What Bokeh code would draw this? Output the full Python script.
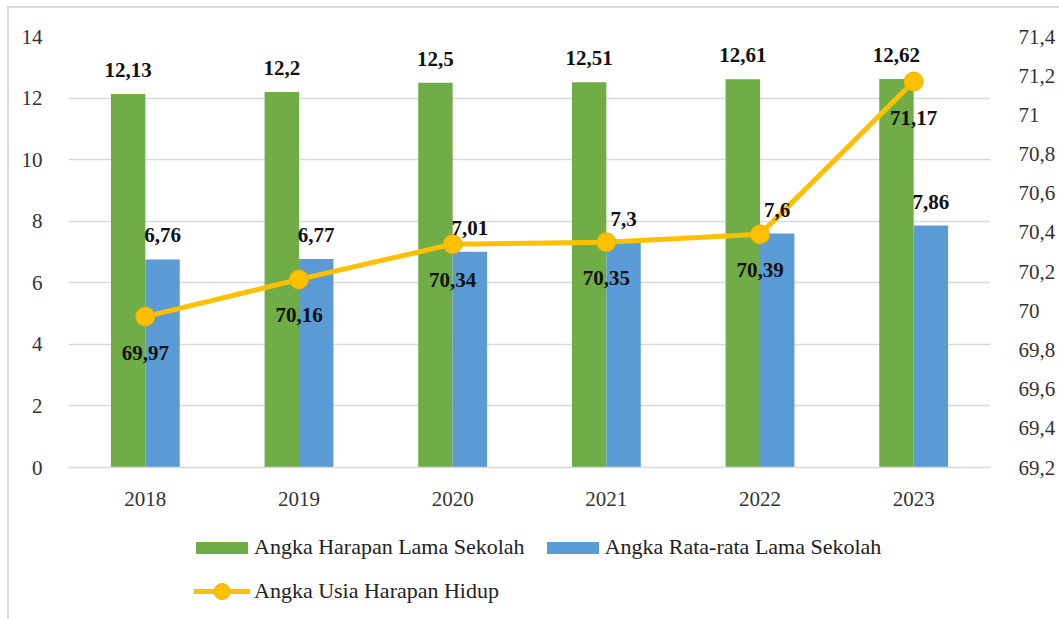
from bokeh.plotting import figure
from bokeh.layouts import column
from bokeh.models import (Range1d, LinearAxis, FixedTicker, CustomJSTickFormatter,
                          Legend, LegendItem, ColumnDataSource, FactorRange)
from bokeh.transform import dodge
from bokeh.core.properties import value
from bokeh.embed import file_html
from bokeh.resources import INLINE

years = ["2018", "2019", "2020", "2021", "2022", "2023"]
ahls = [12.13, 12.2, 12.5, 12.51, 12.61, 12.62]     # Angka Harapan Lama Sekolah
arls = [6.76, 6.77, 7.01, 7.3, 7.6, 7.86]           # Angka Rata-rata Lama Sekolah
auhh = [69.97, 70.16, 70.34, 70.35, 70.39, 71.17]   # Angka Usia Harapan Hidup
left_ticks = [0, 2, 4, 6, 8, 10, 12, 14]
right_ticks = [69.2, 69.4, 69.6, 69.8, 70.0, 70.2, 70.4, 70.6, 70.8, 71.0, 71.2, 71.4]
series_names = ["Angka Harapan Lama Sekolah", "Angka Rata-rata Lama Sekolah",
                "Angka Usia Harapan Hidup"]

def fmt(v):
    return str(v).replace(".", ",")

src = ColumnDataSource(dict(
    year=years, ahls=ahls, arls=arls, auhh=auhh,
    ahls_lbl=[fmt(v) for v in ahls],
    arls_lbl=[fmt(v) for v in arls],
    auhh_lbl=[fmt(v) for v in auhh],
))

FONT = "Liberation Serif"
GREEN = "#70AD47"
BLUE = "#5B9BD5"
YELLOW = "#FFC000"
YELLOW_EDGE = "#EDB200"

# ---------------- main chart ----------------
p = figure(x_range=FactorRange(*years), y_range=Range1d(0, 14),
           width=1050, height=510, output_backend="svg", toolbar_location=None,
           min_border_left=59, min_border_right=69, min_border_top=28, min_border_bottom=51)
p.extra_y_ranges = {"r": Range1d(69.2, 71.4)}
p.outline_line_color = None
p.xgrid.grid_line_color = None
p.ygrid.grid_line_color = "#d9d9d9"
p.ygrid.grid_line_width = 1.5
p.ygrid.ticker = FixedTicker(ticks=left_ticks)

p.yaxis.ticker = FixedTicker(ticks=left_ticks)
for ax in [p.yaxis[0], p.xaxis[0]]:
    ax.major_tick_line_color = None
    ax.minor_tick_line_color = None
    ax.major_label_text_font = FONT
    ax.major_label_text_font_size = "21px"
    ax.major_label_text_color = "#333333"
    ax.major_label_standoff = 20
p.xaxis.major_label_standoff = 18
p.yaxis.axis_line_color = None
p.xaxis.axis_line_color = "#d9d9d9"
p.xaxis.axis_line_width = 1.5

rax = LinearAxis(y_range_name="r", ticker=FixedTicker(ticks=right_ticks),
                 formatter=CustomJSTickFormatter(code="var s=(Math.round(tick*10)/10).toString(); return s.replace('.', ',');"))
rax.axis_line_color = None
rax.major_tick_line_color = None
rax.minor_tick_line_color = None
rax.major_label_text_font = FONT
rax.major_label_text_font_size = "21px"
rax.major_label_text_color = "#333333"
rax.major_label_standoff = 22
p.add_layout(rax, "right")

W = 0.224
p.vbar(x=dodge("year", -W / 2, range=p.x_range), top="ahls", width=W, source=src,
       fill_color=GREEN, line_color=None)
p.vbar(x=dodge("year", W / 2, range=p.x_range), top="arls", width=W, source=src,
       fill_color=BLUE, line_color=None)
p.line(x="year", y="auhh", y_range_name="r", source=src, line_color=YELLOW, line_width=5)
p.scatter(x="year", y="auhh", y_range_name="r", source=src, size=19,
          fill_color=YELLOW, line_color=YELLOW_EDGE, line_width=1)

common = dict(text_font=value(FONT), text_font_style="bold", text_font_size="21px",
              text_align="center", text_baseline="middle", text_color="#111111", source=src)
p.text(x=dodge("year", -W / 2, range=p.x_range), y="ahls", text="ahls_lbl", y_offset=-24, **common)
p.text(x=dodge("year", W / 2, range=p.x_range), y="arls", text="arls_lbl", y_offset=-24, **common)
p.text(x="year", y="auhh", text="auhh_lbl", y_range_name="r", y_offset=36, **common)

# ---------------- legend strip ----------------
q = figure(width=1050, height=101, output_backend="svg", toolbar_location=None,
           x_range=Range1d(0, 1), y_range=Range1d(0, 1),
           x_axis_type=None, y_axis_type=None,
           min_border_left=0, min_border_right=0, min_border_top=0, min_border_bottom=0)
q.outline_line_color = None
q.xgrid.visible = False
q.ygrid.visible = False
# off-screen placeholder data so that the legend can draw each glyph
off = ColumnDataSource(dict(x=[-10, -9], y=[-10, -9]))
lg = q.vbar(x="x", top="y", width=0.1, source=off, fill_color=GREEN, line_color=None)
lb = q.vbar(x="x", top="y", width=0.1, source=off, fill_color=BLUE, line_color=None)
ll = q.line(x="x", y="y", source=off, line_color=YELLOW, line_width=5)
ls = q.scatter(x="x", y="y", source=off, fill_color=YELLOW, line_color=YELLOW_EDGE, line_width=1)

leg_style = dict(label_text_font=FONT, label_text_font_size="22px", label_text_color="#222222",
                 padding=0, margin=0, border_line_color=None, background_fill_alpha=0)
legA = Legend(items=[LegendItem(label=series_names[0], renderers=[lg]),
                     LegendItem(label=series_names[1], renderers=[lb])],
              location=(121, 59), orientation="horizontal",
              glyph_width=65, glyph_height=15, label_standoff=0, label_height=23,
              spacing=15, **leg_style)
legB = Legend(items=[LegendItem(label=series_names[2], renderers=[ll, ls])],
              location=(125, 8), orientation="horizontal",
              glyph_width=57, glyph_height=40, label_standoff=4, label_height=23,
              **leg_style)
q.add_layout(legA, "center")
q.add_layout(legB, "center")

layout = column(p, q, spacing=0,
                styles={"border-left": "2px solid #d9d9d9", "border-top": "2px solid #d9d9d9",
                        "margin-left": "7px", "margin-top": "6px"})

open("out.html", "w").write(file_html(layout, INLINE))
